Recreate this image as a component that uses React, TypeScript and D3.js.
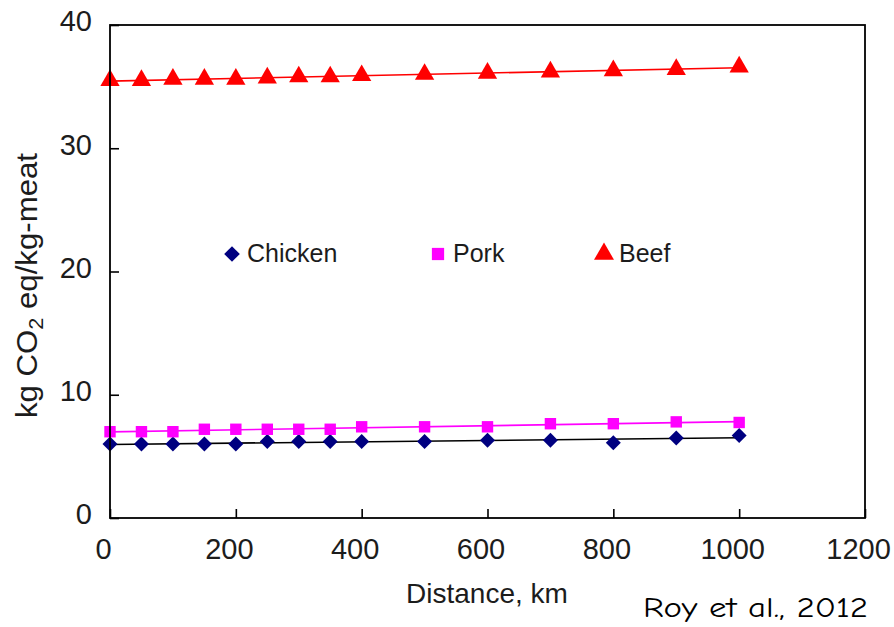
import React, { useEffect, useRef } from 'react';
import * as d3 from 'd3';

const distances = [0, 50, 100, 150, 200, 250, 300, 350, 400, 500, 600, 700, 800, 900, 1000];
const chicken = [6.0, 6.0, 6.0, 6.0, 6.0, 6.2, 6.2, 6.2, 6.2, 6.2, 6.3, 6.3, 6.1, 6.5, 6.7];
const pork = [7.0, 7.0, 7.0, 7.2, 7.2, 7.2, 7.2, 7.2, 7.4, 7.4, 7.4, 7.65, 7.65, 7.8, 7.75];
const beef = [35.5, 35.5, 35.6, 35.6, 35.6, 35.7, 35.8, 35.8, 35.9, 36.0, 36.1, 36.2, 36.3, 36.4, 36.6];
const xTicks = [0, 200, 400, 600, 800, 1000, 1200];
const yTicks = [0, 10, 20, 30, 40];

const series = [
  { name: 'Chicken', values: chicken, marker: 'diamond', fill: '#000080', line: '#000000' },
  { name: 'Pork', values: pork, marker: 'square', fill: '#ff00ff', line: '#ff00ff' },
  { name: 'Beef', values: beef, marker: 'triangle', fill: '#ff0000', line: '#ff0000' },
];

// least squares trend line
const fit = (xs: number[], ys: number[]) => {
  const mx = d3.mean(xs)!;
  const my = d3.mean(ys)!;
  const slope = d3.sum(xs, (x, i) => (x - mx) * (ys[i] - my)) / d3.sum(xs, x => (x - mx) ** 2);
  return (x: number) => my + slope * (x - mx);
};

const symbolFor = (m: string, size: number) => {
  if (m === 'diamond') return d3.symbol().type(d3.symbolDiamond2).size(size * 1.3)();
  if (m === 'square') return d3.symbol().type(d3.symbolSquare).size(size)();
  return d3.symbol().type(d3.symbolTriangle).size(size * 1.15)();
};

const App = () => {
  const svgRef = useRef<SVGSVGElement>(null);

  useEffect(() => {
    const W = 894, H = 627;
    const margin = { top: 25, right: 29, bottom: 109, left: 110 };
    const width = W - margin.left - margin.right;
    const height = H - margin.top - margin.bottom;
    const font = '"Liberation Sans", Arial, sans-serif';
    const textColor = '#1c1c1c';

    const root = d3.select(svgRef.current);
    root.selectAll('*').remove();
    root.attr('width', W).attr('height', H);

    const svg = root.append('g').attr('transform', `translate(${margin.left},${margin.top})`);

    const x = d3.scaleLinear().domain([0, 1200]).range([0, width]);
    const y = d3.scaleLinear().domain([0, 40]).range([height, 0]);

    // trend lines
    series.forEach(s => {
      const f = fit(distances, s.values);
      svg.append('line')
        .attr('x1', x(0)).attr('y1', y(f(0)))
        .attr('x2', x(1000)).attr('y2', y(f(1000)))
        .attr('stroke', s.line)
        .attr('stroke-width', 1.6);
    });

    // markers
    series.forEach(s => {
      const size = s.marker === 'triangle' ? 140 : s.marker === 'square' ? 130 : 110;
      svg.selectAll(`.pt-${s.name}`)
        .data(s.values)
        .enter()
        .append('path')
        .attr('d', symbolFor(s.marker, size))
        .attr('transform', (d, i) => `translate(${x(distances[i])},${y(d)})`)
        .attr('fill', s.fill);
    });

    // frame
    svg.append('rect')
      .attr('width', width).attr('height', height)
      .attr('fill', 'none')
      .attr('stroke', '#000')
      .attr('stroke-width', 1.8);

    // axes with inward ticks
    const xAxis = svg.append('g')
      .attr('transform', `translate(0,${height})`)
      .call(d3.axisBottom(x).tickValues(xTicks).tickFormat(d3.format('d')).tickSize(-9).tickPadding(20).tickSizeOuter(0));
    xAxis.select('.domain').remove();
    xAxis.selectAll('line').attr('stroke', '#000').attr('stroke-width', 1.6);
    xAxis.selectAll('text')
      .attr('dx', -7)
      .style('font-size', '29px')
      .style('font-family', font)
      .attr('fill', textColor);

    const yAxis = svg.append('g')
      .call(d3.axisLeft(y).tickValues(yTicks).tickSize(-9).tickPadding(18).tickSizeOuter(0));
    yAxis.select('.domain').remove();
    yAxis.selectAll('line').attr('stroke', '#000').attr('stroke-width', 1.6);
    yAxis.selectAll('text')
      .attr('dy', '0.2em')
      .style('font-size', '29px')
      .style('font-family', font)
      .attr('fill', textColor);

    // legend
    const legendX = [122, 328, 494];
    series.forEach((s, i) => {
      const g = svg.append('g').attr('transform', `translate(${legendX[i]},${229})`);
      g.append('path')
        .attr('d', symbolFor(s.marker, s.marker === 'triangle' ? 150 : s.marker === 'square' ? 150 : 120))
        .attr('fill', s.fill);
      g.append('text')
        .attr('x', 15)
        .attr('y', 8)
        .text(s.name)
        .style('font-size', '25px')
        .style('font-family', font)
        .attr('fill', textColor);
    });

    // axis titles
    root.append('text')
      .attr('x', 487)
      .attr('y', 603)
      .attr('text-anchor', 'middle')
      .text('Distance, km')
      .style('font-size', '28px')
      .style('font-family', font)
      .attr('fill', textColor);

    const yt = root.append('text')
      .attr('transform', 'translate(37,418) rotate(-90)')
      .attr('text-anchor', 'start')
      .attr('textLength', 265)
      .attr('lengthAdjust', 'spacingAndGlyphs')
      .style('font-size', '29px')
      .style('font-family', font)
      .attr('fill', textColor);
    yt.append('tspan').text('kg CO');
    yt.append('tspan').text('2').attr('dy', 6).style('font-size', '20px');
    yt.append('tspan').text(' eq/kg-meat').attr('dy', -6);

    // source note
    root.append('text')
      .attr('x', 643)
      .attr('y', 617)
      .attr('textLength', 225)
      .attr('lengthAdjust', 'spacingAndGlyphs')
      .text('Roy et al., 2012')
      .style('font-size', '29px')
      .style('font-family', '"Comic Sans MS", "Comic Neue", "DejaVu Sans", sans-serif')
      .attr('fill', '#000');
  }, []);

  return (
    <svg ref={svgRef} style={{ position: 'absolute', left: 0, top: 0, background: '#fff' }}></svg>
  );
};

export default App;
